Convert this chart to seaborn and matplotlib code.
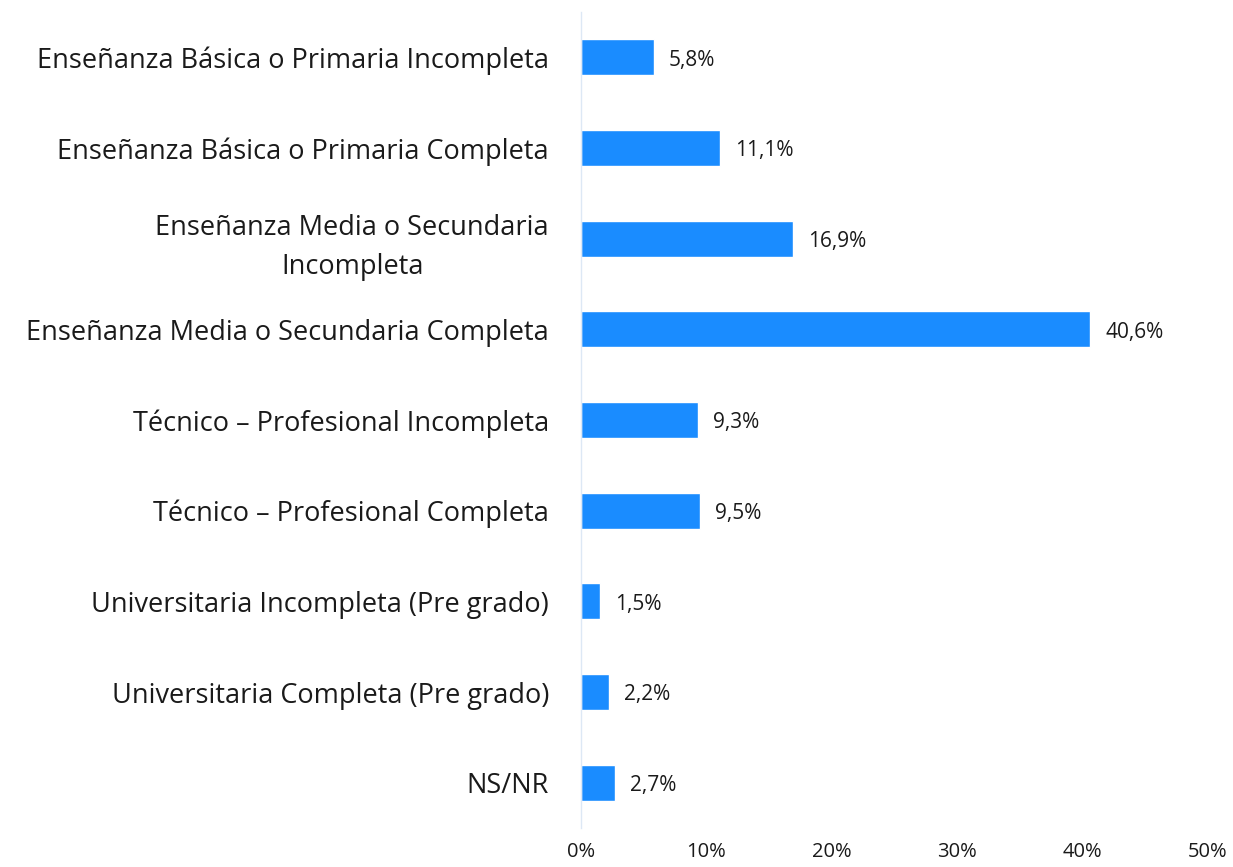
import matplotlib
matplotlib.use("Agg")
import matplotlib.pyplot as plt
import pandas as pd
import seaborn as sns

categories = [
    "Enseñanza Básica o Primaria Incompleta",
    "Enseñanza Básica o Primaria Completa",
    "Enseñanza Media o Secundaria\nIncompleta",
    "Enseñanza Media o Secundaria Completa",
    "Técnico – Profesional Incompleta",
    "Técnico – Profesional Completa",
    "Universitaria Incompleta (Pre grado)",
    "Universitaria Completa (Pre grado)",
    "NS/NR",
]
values = [5.8, 11.1, 16.9, 40.6, 9.3, 9.5, 1.5, 2.2, 2.7]
xticks = [0, 10, 20, 30, 40, 50]

df = pd.DataFrame({"categoria": categories, "pct": values})

sns.set_theme(style="white")
plt.rcParams["font.family"] = ["Open Sans", "DejaVu Sans"]

fig = plt.figure(figsize=(12.33, 8.67), dpi=100)
ax = fig.add_axes([581 / 1233, 1 - 828 / 867, (1208 - 581) / 1233, (828 - 12) / 867])

sns.barplot(data=df, x="pct", y="categoria", color="#1a8cff", saturation=1,
            width=0.4, orient="h", ax=ax)

for bar, v in zip(ax.patches, values):
    ax.annotate(f"{v:.1f}%".replace(".", ","),
                xy=(bar.get_width(), bar.get_y() + bar.get_height() / 2),
                xytext=(11, -2), textcoords="offset points",
                ha="left", va="center", fontsize=15, color="#1a1a1a")

ax.set_xlim(0, 50)
ax.set_ylim(8.5, -0.5)
ax.set_xticks(xticks)
ax.set_xticklabels([f"{t}%" for t in xticks], fontsize=14.5, color="#1a1a1a")
ax.tick_params(axis="x", length=0, pad=10)
ax.tick_params(axis="y", length=0, pad=23, labelsize=19.5, labelcolor="#1a1a1a")
for lbl in ax.get_yticklabels():
    lbl.set_multialignment("center")
    lbl.set_linespacing(1.5)
ax.set_xlabel("")
ax.set_ylabel("")

for side in ["top", "right", "bottom"]:
    ax.spines[side].set_visible(False)
ax.spines["left"].set_color("#dde8f5")
ax.spines["left"].set_linewidth(1)

fig.savefig("out.png", dpi=100)
